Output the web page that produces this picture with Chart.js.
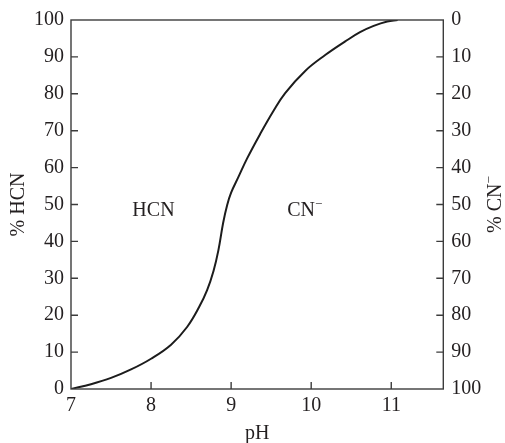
<!DOCTYPE html>
<html>
<head>
<meta charset="utf-8">
<script src="https://cdn.jsdelivr.net/npm/chart.js@4/dist/chart.umd.min.js"></script>
<style>
  html, body { margin: 0; padding: 0; background: #ffffff; }
  #wrap { width: 505px; height: 443px; }
</style>
</head>
<body>
<div id="wrap"><canvas id="chart" width="505" height="443"></canvas></div>
<script>
// Fraction of cyanide present as HCN versus pH
const phValues   = [7.0, 7.25, 7.5, 7.75, 8.0, 8.25, 8.45, 8.6,  8.7,  8.78, 8.84, 8.9, 8.95, 9.0,  9.09, 9.2,  9.36, 9.53, 9.675, 9.925, 10.175, 10.425, 10.61, 10.78, 10.95, 11.08];
const hcnPercent = [0,   1.3,  3.0, 5.3,  8.2, 12,   16.8, 22.2, 26.8, 32,   37.5, 45,  49.8, 53.2, 57.4, 62.5, 69,   75.4, 80.2,  86.2,  90.5,   94.2,   96.7,  98.4,  99.6,  100];

const xTickValues = [7, 8, 9, 10, 11];
const yTickValues = [0, 10, 20, 30, 40, 50, 60, 70, 80, 90, 100];

const leftTitle  = '% HCN';
const rightTitle = '% CN';
const xTitle     = 'pH';
const regionLabels = [
  { text: 'HCN', x: 8.03, y: 48.4, sup: '' },
  { text: 'CN',  x: 9.92, y: 48.4, sup: '\u2212' }
];

const FONT = 'Liberation Serif, Times New Roman, serif';
const FS = 20;
const SUP = 13;
const INK = '#231f20';
const FRAME = '#3c3c3c';

const points = phValues.map((x, i) => ({ x: x, y: hcnPercent[i] }));

// Frame, inward tick marks, axis titles and region labels
const decorations = {
  id: 'decorations',
  afterDraw(chart) {
    const ctx = chart.ctx;
    const a = chart.chartArea;
    const sx = chart.scales.x, sy = chart.scales.y, sy2 = chart.scales.y2;
    const tick = 7;
    ctx.save();
    ctx.strokeStyle = FRAME;
    ctx.lineWidth = 1.4;
    ctx.strokeRect(a.left, a.top, a.right - a.left, a.bottom - a.top);

    ctx.beginPath();
    xTickValues.forEach(v => {
      if (v === sx.min) return;
      const px = sx.getPixelForValue(v);
      ctx.moveTo(px, a.bottom);
      ctx.lineTo(px, a.bottom - tick);
    });
    yTickValues.forEach(v => {
      if (v === 0 || v === 100) return;
      const py = sy.getPixelForValue(v);
      ctx.moveTo(a.left, py);
      ctx.lineTo(a.left + tick, py);
      const py2 = sy2.getPixelForValue(v);
      ctx.moveTo(a.right, py2);
      ctx.lineTo(a.right - tick, py2);
    });
    ctx.stroke();

    ctx.fillStyle = INK;
    ctx.textAlign = 'center';
    ctx.textBaseline = 'middle';
    ctx.font = FS + 'px ' + FONT;
    const midY = (a.top + a.bottom) / 2;

    // x axis title
    ctx.fillText(xTitle, (a.left + a.right) / 2, 434);

    // left title
    ctx.save();
    ctx.translate(19, midY);
    ctx.rotate(-Math.PI / 2);
    ctx.fillText(leftTitle, 0, 0);
    ctx.restore();

    // right title with superscript minus
    ctx.save();
    ctx.translate(496, midY);
    ctx.rotate(-Math.PI / 2);
    ctx.font = FS + 'px ' + FONT;
    const wMain = ctx.measureText(rightTitle).width;
    ctx.font = SUP + 'px ' + FONT;
    const wSup = ctx.measureText('\u2212').width;
    const start = -(wMain + wSup) / 2;
    ctx.textAlign = 'left';
    ctx.font = FS + 'px ' + FONT;
    ctx.fillText(rightTitle, start, 0);
    ctx.font = SUP + 'px ' + FONT;
    ctx.fillText('\u2212', start + wMain, -6);
    ctx.restore();

    // region labels
    regionLabels.forEach(l => {
      const px = sx.getPixelForValue(l.x);
      const py = sy.getPixelForValue(l.y);
      ctx.font = FS + 'px ' + FONT;
      const w = ctx.measureText(l.text).width;
      ctx.font = SUP + 'px ' + FONT;
      const ws = l.sup ? ctx.measureText(l.sup).width : 0;
      const x0 = px - (w + ws) / 2;
      ctx.textAlign = 'left';
      ctx.font = FS + 'px ' + FONT;
      ctx.fillText(l.text, x0, py);
      if (l.sup) {
        ctx.font = SUP + 'px ' + FONT;
        ctx.fillText(l.sup, x0 + w, py - 6);
      }
    });
    ctx.restore();
  }
};

new Chart(document.getElementById('chart'), {
  type: 'scatter',
  data: {
    datasets: [{
      data: points,
      showLine: true,
      borderColor: '#1c1c1c',
      borderWidth: 2,
      pointRadius: 0,
      tension: 0.4,
      fill: false,
      yAxisID: 'y'
    }]
  },
  options: {
    responsive: false,
    animation: false,
    events: [],
    layout: { padding: { top: 19, left: 0, right: 0, bottom: 0 } },
    plugins: { legend: { display: false }, tooltip: { enabled: false } },
    scales: {
      x: {
        type: 'linear',
        min: 7,
        max: 11.65,
        afterBuildTicks: s => { s.ticks = xTickValues.map(v => ({ value: v })); },
        afterFit: s => { s.height = 54; },
        grid: { display: false, drawTicks: false },
        border: { display: false },
        ticks: {
          padding: 5,
          color: INK,
          font: { family: FONT, size: FS },
          maxRotation: 0,
          autoSkip: false
        }
      },
      y: {
        type: 'linear',
        position: 'left',
        min: 0,
        max: 100,
        afterBuildTicks: s => { s.ticks = yTickValues.map(v => ({ value: v })); },
        afterFit: s => { s.width = 71; },
        grid: { display: false, drawTicks: false },
        border: { display: false },
        ticks: {
          padding: 7,
          color: INK,
          font: { family: FONT, size: FS },
          autoSkip: false
        }
      },
      y2: {
        type: 'linear',
        position: 'right',
        reverse: true,
        min: 0,
        max: 100,
        afterBuildTicks: s => { s.ticks = yTickValues.map(v => ({ value: v })); },
        afterFit: s => { s.width = 61.7; },
        grid: { display: false, drawTicks: false },
        border: { display: false },
        ticks: {
          padding: 8,
          color: INK,
          font: { family: FONT, size: FS },
          autoSkip: false
        }
      }
    }
  },
  plugins: [decorations]
});
</script>
</body>
</html>
